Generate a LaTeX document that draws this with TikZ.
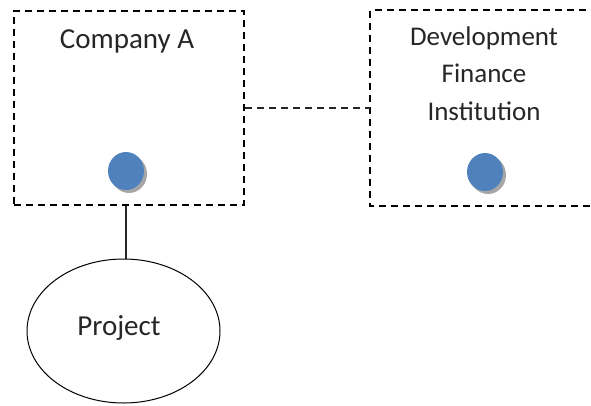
\documentclass[tikz,border=0pt]{standalone}
\usepackage{fontspec}
\setmainfont{Carlito}
\usetikzlibrary{shapes.geometric}
\definecolor{dotblue}{HTML}{4F81BD}
\definecolor{txt}{HTML}{262626}
\tikzset{
  entity/.style={draw=black, line width=1.6pt, dash pattern=on 7pt off 5pt, minimum width=230pt, minimum height=194pt, inner sep=0pt},
  dotmark/.style={ellipse, fill=dotblue, minimum width=36pt, minimum height=38pt, inner sep=0pt},
  dotshadow/.style={ellipse, fill=gray!70, minimum width=36pt, minimum height=38pt, inner sep=0pt},
  lbl/.style={text=txt, font=\fontsize{29}{37}\selectfont, align=center, inner sep=0pt},
  link/.style={draw=black!85, line width=1.6pt, dash pattern=on 7pt off 5pt},
  solidlink/.style={draw=black!85, line width=1.6pt}
}
\begin{document}
\begin{tikzpicture}[x=1pt,y=-1pt]
\useasboundingbox (0,0) rectangle (591,405);
\clip (0,0) rectangle (591,405);
\node[entity] (compA) at (129,108) {};
\node[entity, draw=none, minimum width=250pt] (dfi) at (496,108) {};
\draw[entity] (dfi.north east) -- (dfi.north west) -- (dfi.south west) -- (dfi.south east);
\node[lbl, anchor=base] (compAtext) at (127,48) {Company A};
\node[lbl, anchor=base, font=\fontsize{27}{37.5}\selectfont] (dfitext) at (484,120) {Development\\Finance\\Institution};
\node[dotshadow] (sh1) at (129,174) {};
\node[dotmark] (dot1) at (126,171) {};
\node[dotshadow] (sh2) at (488,175) {};
\node[dotmark] (dot2) at (485,172) {};
\node[ellipse, draw=black, line width=1pt, minimum width=193pt, minimum height=144pt, inner sep=0pt] (project) at (123.5,331) {};
\node[lbl, anchor=base] (projtext) at (119,335) {Project};
\draw[link] (compA.east) -- (dfi.west);
\draw[solidlink] (compA.south -| dot1) -- (project.north -| dot1);
\end{tikzpicture}
\end{document}
